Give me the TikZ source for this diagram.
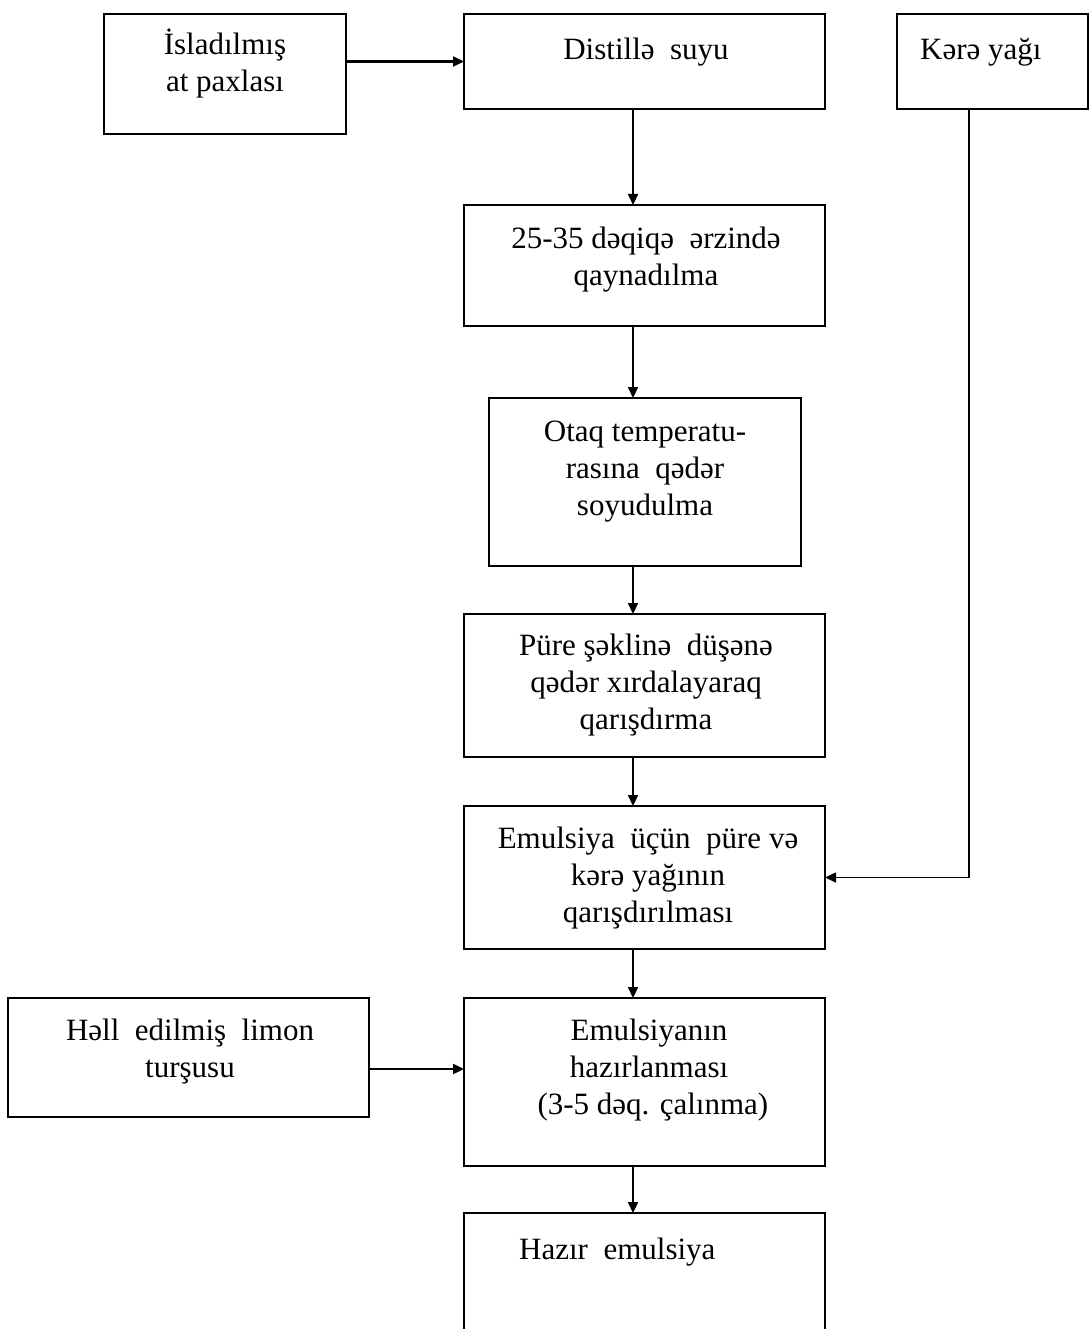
\documentclass[tikz,border=0pt]{standalone}
\usepackage{fontspec}
\setmainfont{Liberation Serif}
\usetikzlibrary{arrows.meta}
\newcommand\firststrut{\rule{0pt}{28pt}}
\begin{document}
\begin{tikzpicture}[x=1pt,y=-1pt,
  box/.style={draw, line width=1.6pt, anchor=north west, inner sep=0pt, outer sep=0pt},
  txt/.style={font=\fontsize{31}{37}\selectfont, align=center, inner sep=0pt, anchor=north},
  flow/.style={line width=2.2pt, -{Triangle[length=11pt,width=10pt]}},
  feed/.style={line width=1.6pt, -{Triangle[length=11pt,width=10pt]}}]
\useasboundingbox (0,0) rectangle (1089,1329);
\fill[white] (0,0) rectangle (1089,1329);

% process boxes
\node[box, minimum width=242pt, minimum height=120pt] (soak)   at (104,14)  {};
\node[box, minimum width=361pt, minimum height=95pt]  (water)  at (464,14)  {};
\node[box, minimum width=191pt, minimum height=95pt]  (butter) at (897,14)  {};
\node[box, minimum width=361pt, minimum height=121pt] (boil)   at (464,205) {};
\node[box, minimum width=312pt, minimum height=168pt] (cool)   at (489,398) {};
\node[box, minimum width=361pt, minimum height=143pt] (mash)   at (464,614) {};
\node[box, minimum width=361pt, minimum height=143pt] (mix)    at (464,806) {};
\node[box, minimum width=361pt, minimum height=119pt] (lemon)  at (8,998)   {};
\node[box, minimum width=361pt, minimum height=168pt] (emul)   at (464,998) {};
\node[box, minimum width=361pt, minimum height=140pt] (ready)  at (464,1213){};

% labels
\node[txt] (soakT)   at (225,26)  {\firststrut İsladılmış\\at paxlası};
\node[txt] (waterT)  at (646,31)  {\firststrut Distillə\ \ suyu};
\node[txt, anchor=north west] (butterT) at (920,31) {\firststrut Kərə yağı};
\node[txt] (boilT)   at (646,220) {\firststrut 25-35 dəqiqə\ \ ərzində\\qaynadılma};
\node[txt] (coolT)   at (645,413) {\firststrut Otaq temperatu-\\rasına\ \ qədər\\soyudulma};
\node[txt] (mashT)   at (646,627) {\firststrut Püre şəklinə\ \ düşənə\\qədər xırdalayaraq\\qarışdırma};
\node[txt] (mixT)    at (648,820) {\firststrut Emulsiya\ \ üçün\ \ püre və\\kərə yağının\\qarışdırılması};
\node[txt] (lemonT)  at (190,1012) {\firststrut Həll\ \ edilmiş\ \ limon\\turşusu};
\node[txt] (emulT)   at (649,1012) {\firststrut Emulsiyanın\\hazırlanması\\\ (3-5 dəq. çalınma)};
\node[txt, anchor=north west] (readyT) at (519,1231) {\firststrut Hazır\ \ emulsiya};

% connector guide lines
\coordinate (axis) at (633,0);
\coordinate (drop) at (969,0);
\coordinate (acid) at (0,1069);

% main flow
\draw[flow] (soak.east |- water.west) -- (water.west);
\draw[flow] (water.south -| axis) -- (boil.north -| axis);
\draw[flow] (boil.south -| axis) -- (cool.north -| axis);
\draw[flow] (cool.south -| axis) -- (mash.north -| axis);
\draw[flow] (mash.south -| axis) -- (mix.north -| axis);
\draw[flow] (mix.south -| axis) -- (emul.north -| axis);
\draw[flow] (emul.south -| axis) -- (ready.north -| axis);

% side feeds
\draw[feed] (butter.south -| drop) -- (drop |- mix.east) -- (mix.east);
\draw[flow] (lemon.east |- acid) -- (emul.west |- acid);
\end{tikzpicture}
\end{document}
